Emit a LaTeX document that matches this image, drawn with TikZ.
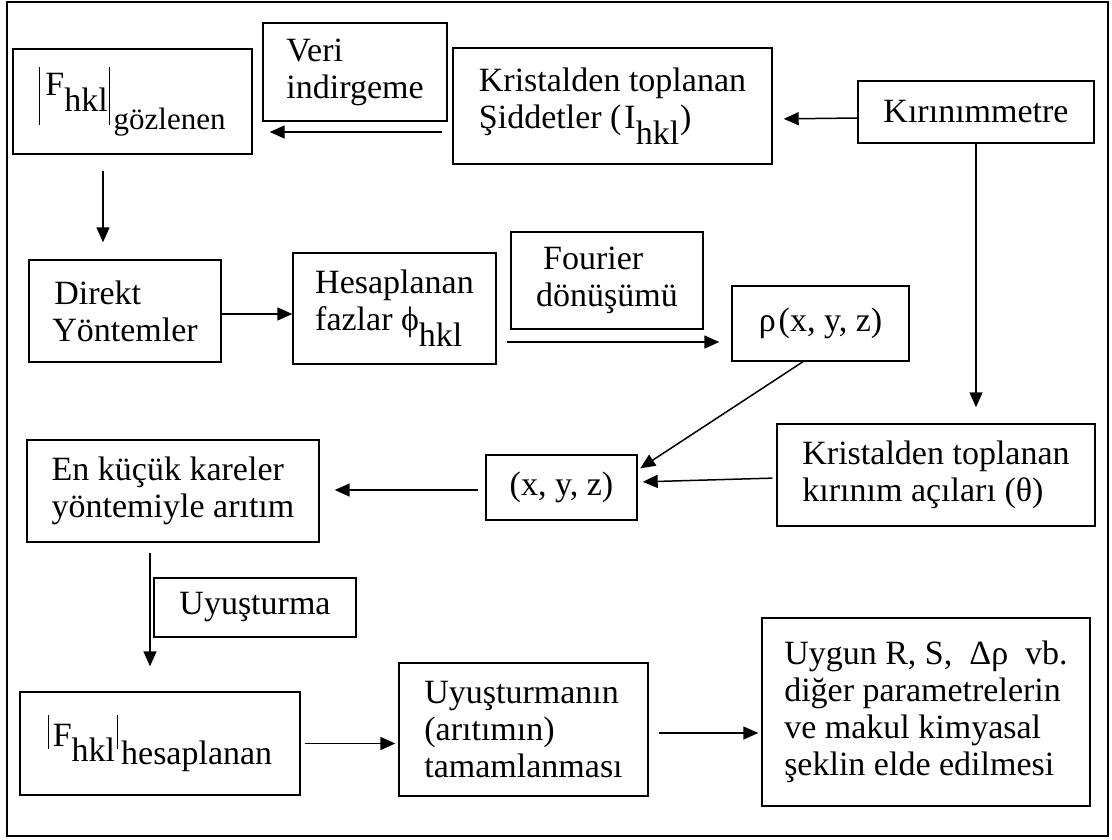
\documentclass[tikz,border=0pt]{standalone}
\usepackage{fontspec}
\setmainfont{Liberation Serif}
\usetikzlibrary{arrows.meta,calc}
\tikzset{
  frame/.style={draw, line width=2.6pt},
  box/.style 2 args={draw, line width=1.4pt, minimum width=#1pt, minimum height=#2pt,
    inner sep=0pt, align=left},
  flow/.style={line width=1.5pt, -{Triangle[length=15pt,width=13pt]}},
}
\newcommand{\low}[1]{\raisebox{-16pt}{#1}}

\begin{document}
\begin{tikzpicture}[x=1pt,y=-1pt,font=\fontsize{34}{37}\selectfont]
\useasboundingbox (0,0) rectangle (1112,839);
\draw[frame] (7,2) rectangle (1108,836);

% ----- top row -----
\node[box={239}{105}] (gozl) at (132.5,101.5)
  {\rule[-29pt]{1pt}{58pt}\hspace{5pt}F\low{hkl}\hspace{1pt}\rule[-29pt]{1pt}{58pt}\hspace{4pt}\raisebox{-34pt}{\fontsize{31}{31}\selectfont gözlenen}};
\node[box={184}{98}] (veri) at (355,72) {Veri\\indirgeme};
\node[box={319}{116}] (sidd) at (612.5,106) {Kristalden toplanan\\Şiddetler (\hspace{3pt}I\low{hkl}\hspace{1pt})};
\node[box={236}{62}] (kirin) at (976,112) {Kırınımmetre};

% ----- middle rows -----
\node[box={192}{102}] (direkt) at (125,311) {\hspace{2pt}Direkt\\Yöntemler};
\node[box={203}{111}] (hesap) at (394.5,308.5) {Hesaplanan\\fazlar ϕ\low{hkl}};
\node[box={192}{97}] (fourier) at (607,280.5) {\hspace{7pt}Fourier\\dönüşümü};
\node[box={177}{75}] (rho) at (820.5,323.5) {ρ\hspace{3pt}(x, y, z)};
\node[box={318}{102}] (acilar) at (936,475) {Kristalden toplanan\\kırınım açıları (θ)};
\node[box={151}{65}] (xyz) at (561.5,487.5) {(x, y, z)};
\node[box={292}{102}] (enkucuk) at (173,491) {En küçük kareler\\yöntemiyle arıtım};

% ----- bottom rows -----
\node[box={202}{59}] (uyus) at (255,607.5) {Uyuşturma};
\node[box={280}{103}] (fhes) at (160,743.5)
  {\rule[-2pt]{1pt}{34pt}\hspace{4pt}F\raisebox{-15pt}{hkl}\hspace{2pt}\rule[-2pt]{1pt}{34pt}\hspace{3pt}\raisebox{-18pt}{hesaplanan}};
\node[box={249}{133}] (tamam) at (523.5,729.5) {Uyuşturmanın\\(arıtımın)\\tamamlanması};
\node[box={328}{188}] (uygun) at (926,712)
  {Uygun R, S,\ \ Δρ\ \ vb.\\diğer parametrelerin\\ve makul kimyasal\\şeklin elde edilmesi};

% ----- flows -----
\draw[flow, shorten <=10pt, shorten >=17pt] ([yshift=-26pt]sidd.west) -- ([yshift=-26pt]sidd.west -| gozl.east);
\draw[flow, shorten >=11pt] ([yshift=-6pt]kirin.west) -- ([yshift=-13pt]sidd.east);
\draw[flow, shorten >=16pt] (kirin.south) -- (kirin.south |- acilar.north);
\draw[flow, shorten <=16pt, shorten >=17pt] ([xshift=-29.5pt]gozl.south) -- ([xshift=-29.5pt]gozl.south |- direkt.north);
\draw[flow] ([yshift=-3pt]direkt.east) -- ([yshift=-3pt]direkt.east -| hesap.west);
\draw[flow, shorten <=10pt, shorten >=12pt] ([yshift=-18.5pt]rho.west -| hesap.east) -- ([yshift=-18.5pt]rho.west);
\draw[flow, shorten >=3pt] ([xshift=-17.5pt]rho.south) -- ([yshift=17.5pt]xyz.east);
\draw[flow, shorten <=4pt, shorten >=5pt] ([yshift=-3pt]acilar.west) -- ([yshift=5.5pt]xyz.east);
\draw[flow, shorten <=7pt, shorten >=15pt] ([yshift=-2.5pt]xyz.west) -- ([yshift=-2.5pt]xyz.west -| enkucuk.east);
\draw[flow, shorten <=10pt, shorten >=25pt] ([xshift=-23pt]enkucuk.south) -- ([xshift=-23pt]enkucuk.south |- fhes.north);
\draw[flow, shorten <=4pt, shorten >=3pt] (fhes.east) -- (fhes.east -| tamam.west);
\draw[flow, shorten <=10pt, shorten >=3pt] ([yshift=-3.5pt]tamam.east) -- ([yshift=-3.5pt]tamam.east -| uygun.west);

\end{tikzpicture}
\end{document}
